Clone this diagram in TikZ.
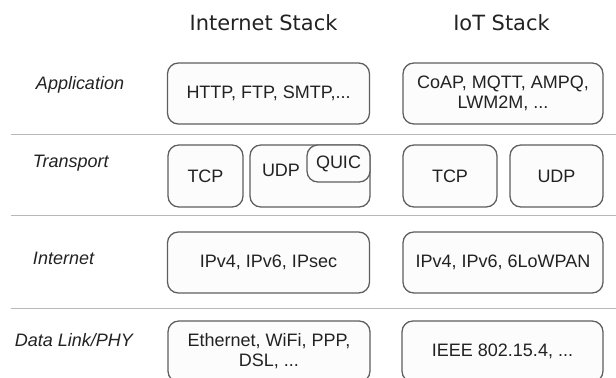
\documentclass[tikz,border=0pt]{standalone}
\usepackage{fontspec}
\setmainfont{Liberation Sans}
\newfontfamily\headfont{DejaVu Sans}
\usetikzlibrary{positioning}
\definecolor{boxline}{HTML}{5E5E5E}
\definecolor{boxfill}{HTML}{FCFCFC}
\definecolor{sepline}{HTML}{B8B8B8}
\definecolor{txt}{HTML}{222222}
\begin{document}
\begin{tikzpicture}[inner sep=0pt,outer sep=0pt,text=txt,
protobox/.style={draw=boxline,fill=boxfill,line width=0.9pt,rounded corners=0.27cm,minimum width=5.05cm,minimum height=1.525cm,align=center,font=\fontsize{12.8}{14.4}\selectfont},
smallbox/.style={protobox,minimum height=1.55cm},
layername/.style={anchor=west,font=\fontsize{12.8}{14.4}\selectfont\itshape},
stackname/.style={anchor=base,font=\fontsize{14.9}{17}\headfont},
sep/.style={draw=sepline,line width=1.4pt}]
\useasboundingbox (0,0) rectangle (15.4,-9.45);
% headers
\node[stackname] (HI) at (6.5875,-0.7675) {Internet Stack};
\node[stackname] (HT) at (12.5375,-0.7675) {IoT Stack};
% layer names
\node[layername] (LA) at (0.9,-2.125) {Application};
\node[layername] (LT) at (0.825,-4.075) {Transport};
\node[layername] (LI) at (0.825,-6.45) {Internet};
\node[layername] (LD) at (0.375,-8.5) {Data Link/PHY};
% separators
\draw[sep] (0.275,-3.3625) -- (15.4,-3.3625);
\draw[sep] (0.275,-5.3875) -- (15.4,-5.3875);
\draw[sep] (0.275,-7.7125) -- (15.4,-7.7125);
% application
\node[protobox] (AI) at (6.7125,-2.3375) {HTTP, FTP, SMTP,...};
\node[protobox,minimum width=5cm] (AT) at (12.575,-2.3375) {CoAP, MQTT, AMPQ,\\LWM2M, ...};
% transport
\node[smallbox,minimum width=1.875cm] (TI) at (5.1375,-4.4) {TCP};
\node[smallbox,minimum width=3cm] (UI) at (7.75,-4.4) {};
\node[protobox,anchor=north east,minimum width=1.575cm,minimum height=0.925cm] (Q) at (UI.north east) {QUIC};
\node[font=\fontsize{12.8}{14.4}\selectfont] (UL) at (7.025,-4.25) {UDP};
\node[smallbox,minimum width=2.35cm] (TT) at (11.25,-4.4) {TCP};
\node[smallbox,minimum width=2.325cm] (UT) at (13.9125,-4.4) {UDP};
% internet
\node[protobox] (II) at (6.7125,-6.5625) {IPv4, IPv6, IPsec};
\node[protobox,minimum width=5cm] (IT) at (12.575,-6.5625) {IPv4, IPv6, 6LoWPAN};
% data link
\node[protobox] (DI) at (6.725,-8.7875) {Ethernet, WiFi, PPP,\\DSL, ...};
\node[protobox,minimum width=5.025cm] (DT) at (12.5625,-8.7875) {IEEE 802.15.4, ...};
\end{tikzpicture}
\end{document}
